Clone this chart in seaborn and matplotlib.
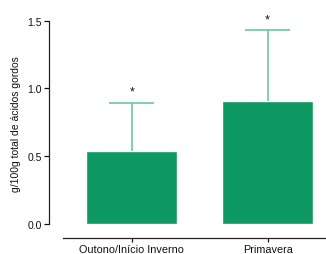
import seaborn as sns
import matplotlib.pyplot as plt
import pandas as pd

groups = ["Outono/Início Inverno", "Primavera"]
means = [0.535, 0.91]
sd_upper = [0.36, 0.52]
signif = ["*", "*"]

bar_color = "#0d9862"
err_color = "#5cc49c"

sns.set_style("ticks")
plt.rcParams['font.family'] = ['Liberation Sans', 'DejaVu Sans']
plt.rcParams['text.color'] = "#111111"
plt.rcParams['xtick.color'] = "#111111"
plt.rcParams['ytick.color'] = "#111111"
plt.rcParams['axes.labelcolor'] = "#111111"

df = pd.DataFrame({"grupo": groups, "valor": means})

fig = plt.figure(figsize=(3.26, 2.55), dpi=100)
ax = fig.add_axes([0.1503, 0.0627, 0.8497, 0.898])

sns.barplot(data=df, x="grupo", y="valor", color=bar_color, saturation=1,
            width=0.67, errorbar=None, ax=ax)

# only upper error bars, as in the original
for i, (m, e) in enumerate(zip(means, sd_upper)):
    ax.vlines(i, m, m + e, color=err_color, linewidth=1.1, zorder=1)
    ax.hlines(m + e, i - 0.165, i + 0.165, color=err_color, linewidth=1.1, zorder=1)
    ax.text(i, m + e + 0.035, signif[i], ha="center", va="bottom", fontsize=9)

ax.set_xlim(-0.61, 1.43)
ax.set_ylim(-0.104, 1.585)
ax.set_yticks([0.0, 0.5, 1.0, 1.5])
ax.set_yticklabels(["0.0", "0.5", "1.0", "1.5"])
ax.spines["left"].set_bounds(0, 1.5)
ax.spines["bottom"].set_bounds(-0.507, 1.43)
ax.spines["top"].set_visible(False)
ax.spines["right"].set_visible(False)
for s in ["left", "bottom"]:
    ax.spines[s].set_linewidth(0.9)
    ax.spines[s].set_color("#222222")
ax.tick_params(axis="y", labelsize=7.5, length=3.5, width=0.9, pad=1.5)
ax.tick_params(axis="x", labelsize=7.8, length=3, width=0.9, pad=1.5)
ax.set_xlabel("")
ax.set_ylabel("g/100g total de ácidos gordos", fontsize=7.5, labelpad=5)

fig.savefig("out.png", dpi=100)
